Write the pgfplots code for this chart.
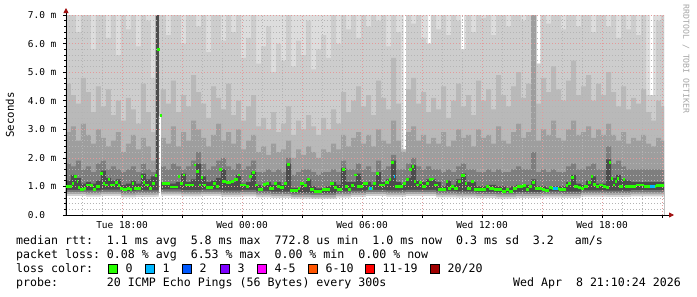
\documentclass[border=0pt]{standalone}
\usepackage{fontspec}
\setmonofont{DejaVu Sans Mono}
\usepackage{pgfplots}
\pgfplotsset{compat=1.18}
\usepackage{pgfplotstable}
\usetikzlibrary{arrows.meta}

\definecolor{sA}{HTML}{DDDDDD}
\definecolor{sB}{HTML}{CDCDCD}
\definecolor{sC}{HTML}{B9B9B9}
\definecolor{sD}{HTML}{9E9E9E}
\definecolor{sE}{HTML}{7E7E7E}
\definecolor{sF}{HTML}{4C4C4C}
\definecolor{lG}{HTML}{787878}
\definecolor{lM}{HTML}{A8A8A8}
\definecolor{lL}{HTML}{D2D2D2}
\definecolor{med}{HTML}{26FF00}
\definecolor{lossA}{HTML}{00B8FF}
\definecolor{lossB}{HTML}{0059FF}
\definecolor{lossC}{HTML}{7E00FF}
\definecolor{lossD}{HTML}{FF00FF}
\definecolor{lossE}{HTML}{FF5500}
\definecolor{lossF}{HTML}{FF0000}
\definecolor{lossG}{HTML}{A00000}
\definecolor{arrowred}{HTML}{A01010}
\definecolor{mgrid}{HTML}{E39A9A}
\definecolor{mingrid}{HTML}{B4B4B4}

\newcommand\tickfont{\ttfamily\fontsize{9.5}{10}\selectfont}
\newcommand\legfont{\ttfamily\fontsize{11.6}{12}\selectfont}

\pgfplotstableread{
h b c d e f
15.20 7 4.6 2.9 1.8 1.2
15.45 7 4.2 3.1 1.7 1.4
15.70 6.4 3.9 2.6 1.9 1.3
15.95 7 4.8 3.2 1.6 1.1
16.20 7 4.3 2.8 1.7 1.15
16.45 5.8 3.6 2.5 1.5 1.1
16.70 7 4.5 3.0 1.8 1.2
16.95 7 3.8 2.7 1.9 1.55
17.20 6.2 4.4 2.4 1.6 1.3
17.45 7 3.5 2.6 1.7 1.2
17.70 5.6 4.0 2.9 1.6 1.25
17.95 7 3.3 2.2 1.5 1.05
18.20 6.5 4.1 2.5 1.6 1.1
18.45 7 3.7 2.8 1.7 1.2
18.70 5.9 3.2 2.3 1.5 1.1
18.95 7 4.6 2.7 1.8 1.45
19.20 6.8 3.6 2.4 1.6 1.25
19.45 4.8 2.9 1.9 1.5 1.35
19.70 7 7 7 7 7
19.85 7 3.0 2.0 1.5 1.2
19.95 7 4.4 2.7 1.7 1.15
20.20 6.3 3.9 2.5 1.6 1.1
20.45 7 4.7 3.1 1.8 1.1
20.70 7 3.6 2.4 1.7 1.15
20.95 6.0 4.2 2.9 1.6 1.45
21.20 7 3.8 2.6 1.7 1.15
21.45 7 4.9 3.3 1.9 1.25
21.70 6.6 4.3 3.0 2.2 1.8
21.95 7 3.9 2.7 1.8 1.35
22.20 5.7 3.4 2.4 1.6 1.15
22.45 7 4.5 2.8 1.7 1.2
22.70 7 4.1 3.2 1.9 1.3
22.95 6.1 3.7 2.6 2.0 1.6
23.20 7 4.6 2.9 1.7 1.2
23.45 6.4 3.5 2.5 1.6 1.15
23.70 7 4.0 3.0 1.8 1.4
23.95 5.5 3.3 2.3 1.6 1.1
24.20 6.2 3.8 2.6 1.7 1.15
24.45 7 4.2 2.8 1.9 1.5
24.70 5.3 3.1 2.2 1.5 1.05
24.95 5.9 3.4 2.4 1.5 1.0
25.20 6.6 3.0 2.1 1.6 1.15
25.45 5.0 3.6 2.5 1.5 1.05
25.70 6.0 2.9 2.2 1.6 1.15
25.95 5.4 3.2 2.3 1.5 1.05
26.20 7 3.8 2.6 2.0 1.8
26.45 5.2 2.8 2.0 1.4 0.95
26.70 6.1 3.3 2.3 1.5 0.95
26.95 5.6 3.0 2.1 1.6 1.1
27.20 6.8 3.5 2.4 1.6 1.25
27.45 5.1 3.1 2.2 1.5 1.0
27.70 5.8 2.8 2.0 1.4 0.93
27.95 6.3 3.4 2.3 1.5 0.95
28.20 5.5 3.0 2.2 1.5 1.0
28.45 7 3.7 2.5 1.6 1.15
28.70 6.0 3.2 2.3 1.5 1.05
28.95 7 4.3 2.8 1.9 1.65
29.20 6.5 3.6 2.4 1.6 1.15
29.45 7 4.0 2.7 1.6 1.15
29.70 6.2 4.5 2.9 1.8 1.45
29.95 7 3.8 2.5 1.6 1.15
30.20 6.6 4.2 2.8 1.7 1.15
30.45 7 3.5 2.4 1.5 1.05
30.70 6.8 4.7 3.0 1.9 1.5
30.95 7 4.1 2.6 1.6 1.15
31.20 5.9 3.7 2.5 1.7 1.25
31.45 7 5.5 3.3 2.1 1.9
31.70 6.4 3.9 2.6 1.6 1.15
31.95 2.3 2.3 2.2 1.6 1.1
32.20 7 4.4 2.9 1.8 1.3
32.45 6.7 4.8 3.1 2.0 1.75
32.70 7 3.9 2.6 1.7 1.2
32.95 6.2 4.3 2.8 1.6 1.15
33.20 6.0 3.6 2.5 1.7 1.25
33.45 7 4.1 2.7 1.6 1.25
33.70 6.5 3.7 2.5 1.6 1.15
33.95 7 4.5 2.9 1.5 1.0
34.20 6.3 3.4 2.4 1.6 1.2
34.45 7 4.0 2.6 1.5 1.05
34.70 6.8 4.6 3.0 1.7 1.25
34.95 5.8 3.8 2.7 1.8 1.45
35.20 7 4.2 2.8 1.6 1.15
35.45 6.4 3.5 2.4 1.6 1.15
35.70 7 4.7 3.0 1.5 1.0
35.95 6.9 4.0 2.7 1.5 1.0
36.20 7 4.4 2.8 1.6 1.05
36.45 6.3 3.7 2.5 1.5 1.05
36.70 7 4.9 3.1 1.6 1.0
36.95 7 4.2 2.6 1.5 1.0
37.20 6.6 3.8 2.5 1.5 0.95
37.45 7 4.5 2.9 1.6 1.0
37.70 7 5.0 3.2 1.7 1.05
37.95 6.8 4.1 2.7 1.6 1.05
38.20 7 4.6 2.9 1.6 1.05
38.45 7 7 7 2.2 1.25
38.70 5.3 3.9 2.6 1.5 1.0
38.95 7 4.8 3.0 1.6 1.0
39.20 6.7 4.3 2.8 1.5 0.95
39.45 7 5.2 3.3 1.6 1.0
39.70 7 4.4 2.7 1.5 1.0
39.95 6.5 4.0 2.6 1.5 1.0
40.20 7 4.7 3.0 1.7 1.15
40.45 7 5.4 3.3 1.8 1.4
40.70 6.6 4.2 2.8 1.6 1.1
40.95 7 4.5 2.9 1.6 1.05
41.20 7 4.9 3.1 1.7 1.2
41.45 6.4 4.0 2.7 1.8 1.35
41.70 7 4.6 3.0 1.6 1.1
41.95 7 4.2 2.8 1.6 1.1
42.20 6.6 5.0 3.2 2.4 1.95
42.45 7 4.3 2.8 1.8 1.3
42.70 6.2 3.8 2.6 1.9 1.4
42.95 7 4.5 2.9 1.7 1.25
43.20 6.5 3.7 2.5 1.6 1.2
43.45 7 4.1 2.7 1.6 1.15
43.70 6.3 3.9 2.6 1.6 1.15
43.95 7 4.4 2.8 1.6 1.15
44.20 4.2 3.6 2.5 1.6 1.15
44.45 4.2 3.3 2.4 1.6 1.15
44.70 6.8 4.0 2.7 1.6 1.15
44.95 7 3.8 2.6 1.6 1.15
45.10 7 3.8 2.6 1.6 1.15
}\tabSmoke

\pgfplotstableread{
h a
15.20 7
32.075 2.3
32.20 7
33.30 6.0
33.425 7
34.95 5.8
35.10 7
38.75 5.3
38.90 7
44.40 4.2
44.55 7
45.10 7
}\tabTop

\pgfplotstableread{
h g m l w
15.20 0.88 0.80 0.73 0.66
16.20 0.86 0.78 0.71 0.64
16.95 0.89 0.81 0.74 0.67
17.95 0.84 0.76 0.69 0.62
18.70 0.86 0.78 0.70 0.63
19.70 0.86 0.78 0.71 0.64
19.85 0.86 0.78 0.71 3.45
19.95 0.90 0.82 0.75 0.68
20.95 0.87 0.79 0.72 0.65
21.95 0.89 0.81 0.74 0.67
22.95 0.86 0.78 0.71 0.64
23.95 0.88 0.80 0.72 0.65
24.70 0.84 0.76 0.69 0.62
25.45 0.82 0.74 0.67 0.60
26.45 0.78 0.71 0.63 0.57
27.45 0.77 0.70 0.62 0.56
28.70 0.83 0.75 0.68 0.61
29.45 0.85 0.77 0.70 0.63
30.20 0.88 0.80 0.73 0.66
31.20 0.86 0.78 0.71 0.64
32.20 0.88 0.80 0.73 0.66
33.70 0.84 0.76 0.69 0.62
34.70 0.83 0.75 0.68 0.61
35.70 0.81 0.73 0.66 0.59
36.70 0.79 0.72 0.64 0.57
37.70 0.81 0.74 0.66 0.59
38.95 0.83 0.75 0.68 0.61
39.95 0.82 0.74 0.67 0.60
40.95 0.86 0.78 0.71 0.64
42.20 0.85 0.77 0.70 0.63
43.45 0.87 0.79 0.72 0.65
45.10 0.87 0.79 0.72 0.65
}\tabLow

\pgfplotstableread{
h v
15.2 1.00
15.5 1.11
15.6 1.35
15.725 1.17
15.8 0.97
15.9 0.90
16.1 0.92
16.2 1.05
16.45 1.02
16.55 0.90
16.7 1.00
16.9 1.44
17.05 1.11
17.15 1.05
17.3 1.23
17.4 1.05
17.65 1.15
17.8 1.02
17.9 0.94
18.05 0.90
18.25 0.92
18.4 0.90
18.5 1.09
18.6 0.94
18.85 0.92
18.95 1.35
19.05 1.15
19.15 1.05
19.35 0.92
19.5 1.11
19.65 1.38
19.75 5.80
19.875 3.47
19.975 1.11
20.4 0.98
20.8 1.35
20.9 1.11
21.05 1.40
21.15 1.05
21.6 1.75
21.7 1.52
21.85 1.05
21.95 1.32
22.05 1.05
22.2 0.97
22.55 1.11
22.7 1.00
22.85 1.58
23.0 1.17
23.2 1.14
23.45 1.17
23.6 1.25
23.8 1.40
23.9 1.05
24.2 1.00
24.35 1.35
24.5 1.49
24.65 1.05
24.8 0.90
25.05 1.08
25.2 1.11
25.35 0.94
25.6 1.11
25.75 1.00
25.9 0.97
26.1 1.11
26.25 1.755
26.375 0.85
26.8 0.94
26.9 1.09
27.1 1.02
27.25 1.23
27.4 0.90
27.6 0.82
28.0 0.88
28.4 1.11
28.6 0.97
28.75 0.88
29.0 1.58
29.15 1.00
29.3 0.88
29.45 1.02
29.6 1.40
29.75 1.00
30.05 1.11
30.3 0.94
30.55 1.11
30.7 1.46
30.825 1.05
31.15 1.14
31.35 1.25
31.45 1.84
31.575 1.35
31.65 1.00
32.05 1.11
32.2 1.25
32.35 1.58
32.5 1.70
32.575 1.17
32.7 1.05
32.85 1.14
33.0 1.00
33.2 1.11
33.35 1.23
33.475 1.26
33.6 1.05
33.8 0.88
34.175 1.17
34.3 0.94
34.45 1.00
34.6 0.92
34.8 1.17
34.925 1.37
35.125 1.11
35.25 0.94
35.45 1.17
35.6 0.88
35.8 0.90
36.2 1.00
36.35 0.94
36.6 0.90
37.0 0.82
37.2 0.88
37.35 0.82
37.55 0.94
37.75 1.00
38.05 1.02
38.2 0.90
38.35 1.00
38.5 1.14
38.625 0.94
39.0 0.88
39.15 0.86
39.35 0.97
39.5 0.93
39.85 0.90
40.05 0.88
40.2 1.02
40.3 1.11
40.425 1.32
40.6 1.00
40.8 0.97
40.95 0.94
41.1 1.00
41.3 1.14
41.45 1.35
41.55 1.08
41.7 1.00
41.85 1.05
42.05 1.00
42.2 0.97
42.35 1.84
42.45 1.29
42.525 1.05
42.65 1.17
42.75 1.29
42.85 1.00
43.025 1.23
43.15 1.00
43.4 1.00
43.7 1.05
44.1 1.00
44.3 1.00
44.7 1.02
45.1 1.02
}\tabMed

\pgfplotsset{
  frame/.style={
    at={(66pt,82pt)}, anchor=south west,
    scale only axis, width=598pt, height=200pt,
    xmin=15.2, xmax=45.1, ymin=0, ymax=7,
    enlargelimits=false,
  }
}

\begin{document}
\begin{tikzpicture}[x=1pt,y=1pt]
\path[use as bounding box, fill=white] (0,0) rectangle (697,297);
\begin{axis}[
  frame,
  axis lines=left,
  axis on top,
  xtick={18,21,24,27,30,33,36,39,42,45},
  xticklabels={Tue 18:00,,Wed 00:00,,Wed 06:00,,Wed 12:00,,Wed 18:00,},
  minor xtick={16,17,19,20,22,23,25,26,28,29,31,32,34,35,37,38,40,41,43,44},
  ytick={0,1,2,3,4,5,6,7},
  yticklabels={0.0\phantom{ m},1.0 m,2.0 m,3.0 m,4.0 m,5.0 m,6.0 m,7.0 m},
  minor y tick num=4,
  grid=both,
  major grid style={mgrid, dash pattern=on 1pt off 2pt, line width=0.7pt},
  minor grid style={mingrid, dash pattern=on 1pt off 2pt, line width=0.7pt},
  tick style={black, line width=0.6pt},
  major tick length=3pt, minor tick length=1.5pt,
  tick align=outside,
  xticklabel style={font=\tickfont, yshift=0.5pt},
  yticklabel style={font=\tickfont, xshift=-3pt},
  axis line style={black, line width=0.8pt},
  x axis line style={-{Triangle[length=5pt,width=5pt,color=arrowred]}, shorten >=-10pt},
  y axis line style={-{Triangle[length=5pt,width=5pt,color=arrowred]}, shorten >=-7pt},
]
\addplot[const plot, fill=sA, draw=none] table[x=h,y=a]{\tabTop} \closedcycle;
\addplot[const plot, fill=sB, draw=none] table[x=h,y=b]{\tabSmoke} \closedcycle;
\addplot[const plot, fill=sC, draw=none] table[x=h,y=c]{\tabSmoke} \closedcycle;
\addplot[const plot, fill=sD, draw=none] table[x=h,y=d]{\tabSmoke} \closedcycle;
\addplot[const plot, fill=sE, draw=none] table[x=h,y=e]{\tabSmoke} \closedcycle;
\addplot[const plot, fill=sF, draw=none] table[x=h,y=f]{\tabSmoke} \closedcycle;
\addplot[const plot, fill=lG, draw=none] table[x=h,y=g]{\tabLow} \closedcycle;
\addplot[const plot, fill=lM, draw=none] table[x=h,y=m]{\tabLow} \closedcycle;
\addplot[const plot, fill=lL, draw=none] table[x=h,y=l]{\tabLow} \closedcycle;
\addplot[const plot, fill=white, draw=none] table[x=h,y=w]{\tabLow} \closedcycle;
\end{axis}
\begin{axis}[frame, hide axis]
\addplot[med, line width=2.8pt, jump mark left, mark=none] table[x=h,y=v]{\tabMed};
\addplot[lossA, line width=2.8pt, mark=none] coordinates {(30.35,0.94) (30.5,0.94)};
\addplot[lossA, line width=2.8pt, mark=none] coordinates {(31.575,1.35) (31.65,1.35)};
\addplot[lossA, line width=2.8pt, mark=none] coordinates {(39.55,0.93) (39.8,0.93)};
\addplot[lossA, line width=2.8pt, mark=none] coordinates {(44.4,1.0) (44.65,1.0)};
\end{axis}
\node[rotate=90, font=\ttfamily\fontsize{10.7}{11}\selectfont] at (10,182) {Seconds};
\node[rotate=-90, font=\ttfamily\fontsize{8.2}{9}\selectfont, text=black!35] at (686,238) {RRDTOOL / TOBI OETIKER};
\node[anchor=base west, inner sep=0, font=\legfont] at (16,52) {median rtt:~~1.1 ms avg~~5.8 ms max~~772.8 us min~~1.0 ms now~~0.3 ms sd~~3.2~~~am/s};
\node[anchor=base west, inner sep=0, font=\legfont] at (16,38) {packet loss: 0.08 \% avg~~6.53 \% max~~0.00 \% min~~0.00 \% now};
\node[anchor=base west, inner sep=0, font=\legfont] at (16,24) {loss color:};
\node[anchor=base west, inner sep=0, font=\legfont] at (16,10) {probe:~~~~~~~20 ICMP Echo Pings (56 Bytes) every 300s};
\node[anchor=base east, inner sep=0, font=\legfont] at (681,10) {Wed Apr~~8 21:10:24 2026};
\foreach \bx/\col/\lab in {108/med/0, 145/lossA/1, 182/lossB/2, 220/lossC/3, 257/lossD/4-5, 308/lossE/6-10, 365/lossF/11-19, 430/lossG/20\slash20} {
  \draw[fill=\col, draw=black, line width=0.6pt] (\bx,24) rectangle ++(9,9);
  \node[anchor=base west, inner sep=0, font=\legfont] at (\bx+17.5,24) {\lab};
}
\end{tikzpicture}
\end{document}
